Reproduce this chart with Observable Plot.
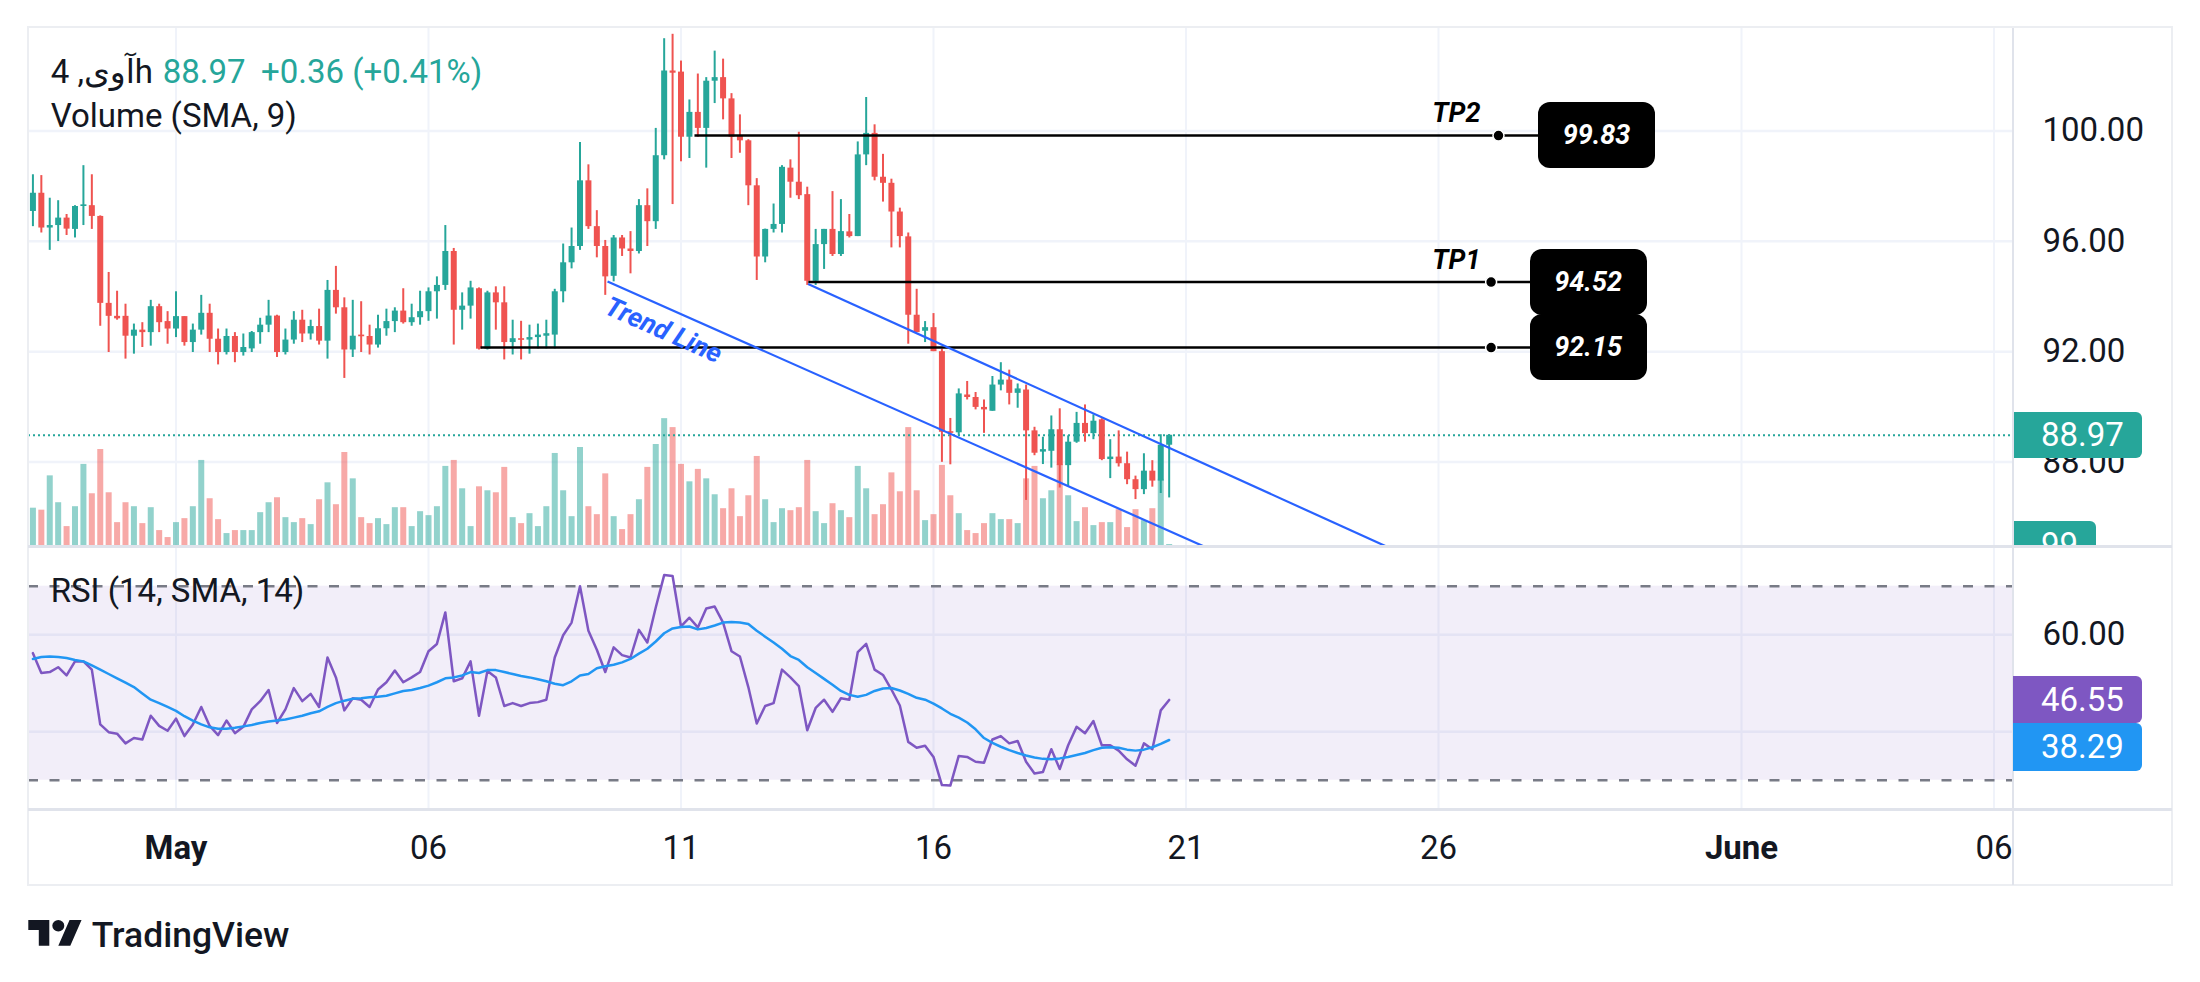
<!DOCTYPE html>
<html><head><meta charset="utf-8">
<script src="https://cdn.jsdelivr.net/npm/d3@7"></script>
<script src="https://cdn.jsdelivr.net/npm/@observablehq/plot@0.6"></script>
<style>
html,body{margin:0;padding:0;background:#fff;}
#root{position:relative;width:2200px;height:982px;overflow:hidden;background:#fff;font-family:Roboto,"DejaVu Sans",sans-serif;}
.layer{position:absolute;left:0;top:0;}
.pane{position:absolute;left:0;top:0;width:2200px;height:546px;overflow:hidden;}
.hl{position:absolute;background:#e0e3eb;}
.fr{position:absolute;background:#eceef2;}
.badge{position:absolute;color:#fff;font-size:33px;display:flex;align-items:center;box-sizing:border-box;padding-left:28px;border-radius:0 6px 6px 0;}
.tpbox{position:absolute;background:#000;color:#fff;font:italic 700 27px Roboto,sans-serif;display:flex;align-items:center;justify-content:center;border-radius:12px;}
</style></head><body><div id="root"></div><script>
// ---------- data ----------
const opens = [97.08,97.74,96.48,96.57,96.84,96.43,97.26,97.29,96.90,93.75,
93.28,93.28,92.56,92.78,92.69,93.63,93.09,92.82,93.27,92.33,
92.78,93.39,92.45,91.97,92.55,91.97,92.10,92.69,92.96,93.29,
91.97,92.42,93.14,92.64,92.91,92.38,94.22,93.59,92.06,92.60,
92.55,92.24,92.83,93.09,93.47,93.05,93.23,93.45,94.17,94.40,
95.63,93.50,93.65,94.28,92.09,94.13,93.77,92.33,92.47,92.42,
92.51,92.56,92.60,94.17,95.22,95.81,98.19,96.53,95.81,94.73,
96.12,95.72,95.63,97.29,96.71,99.10,102.17,102.13,99.77,100.67,
100.09,101.80,101.93,101.16,99.82,99.64,98.01,95.43,96.43,96.61,
98.65,98.14,97.69,94.55,95.88,96.43,95.52,96.34,96.17,99.13,
99.91,98.32,98.10,97.06,96.16,93.32,92.74,92.87,92.00,89.10,
89.06,90.43,90.34,89.98,89.84,90.79,90.97,90.49,90.61,89.13,
88.36,88.39,89.17,87.87,88.72,89.40,89.03,89.53,88.09,88.18,
87.94,87.36,87.00,87.67,87.31,88.61];
const highs = [98.41,98.38,97.56,97.47,96.97,97.29,98.74,98.41,96.92,94.87,
94.19,93.72,93.00,93.05,93.86,93.72,93.45,94.17,93.27,93.00,
94.04,93.72,92.82,92.82,92.69,92.64,92.73,93.21,93.86,93.32,
92.82,93.45,93.50,93.14,93.54,94.58,95.09,93.95,93.86,93.81,
92.96,93.32,93.54,93.59,94.28,93.72,94.19,94.31,94.71,96.57,
95.74,94.13,94.55,94.31,94.19,94.35,94.35,93.14,93.10,92.96,
93.00,93.14,94.26,95.90,96.48,99.58,98.77,97.11,96.03,96.21,
96.21,96.35,97.51,97.90,100.09,103.34,103.50,102.53,101.12,102.06,
101.93,102.89,102.60,101.35,100.58,99.68,98.27,96.44,97.35,98.74,
98.95,99.95,97.96,96.43,96.43,97.80,97.51,96.97,99.60,101.21,
100.22,99.15,98.25,97.20,96.30,94.26,93.09,93.38,92.09,89.58,
90.65,90.92,90.52,90.25,91.10,91.60,91.33,90.83,90.79,89.26,
88.90,89.67,89.93,88.95,89.80,90.07,89.71,89.57,88.81,89.13,
88.36,87.49,88.30,88.05,88.99,88.99];
const lows = [96.53,96.30,95.67,95.99,96.21,96.12,96.57,96.43,92.92,91.97,
93.14,91.73,91.91,92.15,92.20,92.69,92.27,92.51,92.20,91.97,
92.60,91.97,91.52,91.88,91.60,91.84,91.97,92.27,92.69,91.79,
91.88,92.27,92.33,92.42,92.24,91.73,93.36,91.03,91.79,91.97,
91.88,92.13,92.56,92.69,93.00,92.92,92.96,93.10,93.18,94.22,
92.24,92.78,93.18,92.06,92.06,92.78,91.70,91.88,91.70,91.91,
92.10,92.10,92.10,93.77,95.00,95.67,96.43,95.40,94.04,94.53,
95.45,94.82,95.54,95.81,96.43,98.95,97.33,98.88,99.00,99.77,
98.65,100.99,100.40,99.00,99.19,97.29,94.58,95.22,96.30,96.30,
97.56,97.51,94.40,94.40,94.98,95.45,95.45,96.12,96.17,98.74,
98.19,97.42,95.76,95.76,92.27,92.69,92.33,92.00,87.99,87.90,
88.95,90.25,89.89,89.04,89.84,90.58,90.07,89.95,86.61,88.23,
87.91,87.78,87.06,87.10,88.68,88.72,88.81,88.05,87.40,87.82,
87.18,86.64,86.82,87.09,86.86,86.70];
const closes = [97.74,96.48,96.57,96.84,96.44,97.26,97.29,96.90,93.75,93.28,
93.19,92.56,92.78,92.69,93.63,93.05,92.82,93.27,92.33,92.78,
93.39,92.45,91.97,92.55,91.97,92.15,92.69,92.96,93.29,91.97,
92.42,93.14,92.64,92.91,92.38,94.22,93.59,92.06,92.56,92.55,
92.24,92.83,93.09,93.47,93.05,93.23,93.45,94.17,94.40,95.63,
93.50,93.65,94.31,92.09,94.13,93.77,92.33,92.47,92.42,92.51,
92.60,92.65,94.17,95.22,95.81,98.19,96.53,95.81,94.71,96.12,
95.72,95.63,97.29,96.71,99.10,102.17,102.09,99.77,100.67,100.09,
101.80,101.93,101.16,99.77,99.64,98.01,95.43,96.43,96.61,98.68,
98.14,97.65,94.55,95.88,96.43,95.52,96.35,96.17,99.13,99.91,
98.32,98.10,97.06,96.17,93.32,92.69,92.87,92.00,89.08,89.06,
90.47,90.34,89.98,89.89,90.79,90.97,90.49,90.65,89.13,88.32,
88.45,89.17,87.87,88.72,89.40,89.03,89.48,88.09,88.18,87.94,
87.36,87.00,87.67,87.31,88.61,88.97];
const volumes = [1925,1825,3550,2200,1000,2000,4125,2650,4875,2700,
1200,2200,2000,1150,1950,800,450,1200,1400,2000,
4325,2400,1350,650,800,800,800,1700,2200,2450,
1450,1200,1400,1100,2350,3200,2100,4725,3400,1450,
1150,1400,1100,1950,1950,1000,1750,1550,2000,4025,
4325,2900,1000,3000,2800,2700,3975,1450,1150,1650,
1000,2000,4675,2800,1500,4975,2000,1600,3650,1500,
850,1600,2350,3975,5125,6425,5975,4125,3250,3875,
3400,2600,1900,2900,1500,2550,4525,2350,1200,1900,
1800,1950,4325,1750,1150,2150,1800,1450,4025,2900,
1600,2100,3700,2750,5975,2800,1300,1600,4075,2550,
1650,800,650,1150,1650,1350,1350,1150,3400,4025,
2400,2800,4125,2550,1250,1950,1050,1200,1200,1850,
950,1850,1300,1900,3375,99];
const rsiValues = [56.2,52.1,52.3,53.3,51.6,54.5,54.5,52.8,41.5,39.9,
39.6,37.6,38.7,38.4,43.3,41.2,40.2,42.7,39.1,41.5,
45.1,41.2,39.3,42.3,39.7,41.0,44.6,46.3,48.6,41.8,
44.6,49.0,46.3,47.8,45.1,55.3,51.2,44.4,46.9,46.6,
45.1,48.7,50.2,52.6,50.2,51.2,52.3,56.6,58.1,64.6,
50.4,51.0,54.5,43.3,52.5,51.2,45.3,45.9,45.3,45.9,
46.1,46.6,55.3,59.9,62.5,70.0,60.8,56.9,52.3,57.4,
55.8,55.3,61.0,58.4,65.6,72.3,72.1,61.7,63.5,61.5,
65.4,65.8,62.5,56.6,55.5,49.2,41.7,45.3,45.9,52.8,
51.2,49.4,40.3,44.9,46.6,44.1,46.9,46.6,56.4,58.1,
52.8,51.7,48.7,45.4,37.9,36.7,37.1,34.8,29.0,28.9,
35.0,34.8,33.8,33.6,38.4,39.1,37.6,38.1,33.8,31.4,
31.7,36.4,32.3,37.2,41.0,39.7,42.2,37.2,37.2,36.1,
34.3,33.0,37.6,36.4,44.4,46.55];
const rsiMA = [55.0,55.4,55.5,55.4,55.2,54.8,54.5,53.7,52.8,51.9,
51.0,50.1,49.2,47.9,46.6,45.9,45.1,44.3,43.2,42.3,
41.5,40.9,40.6,40.6,40.8,41.1,41.4,41.8,42.1,42.3,
42.5,42.9,43.3,43.8,44.2,45.1,45.9,46.4,46.8,46.9,
47.1,47.2,47.4,47.9,48.4,48.6,49.0,49.5,50.2,51.0,
51.2,51.6,52.3,52.1,52.7,52.7,52.3,51.9,51.5,51.2,
50.8,50.4,49.9,49.6,50.4,51.6,51.9,53.1,53.5,53.8,
54.3,55.0,56.1,57.1,58.6,60.3,61.3,61.6,61.7,61.1,
61.4,61.9,62.5,62.6,62.5,62.2,60.8,59.6,58.4,57.1,
55.6,54.8,53.3,52.1,50.9,49.7,48.4,47.6,47.2,47.6,
48.4,48.9,49.0,48.5,47.8,47.0,46.6,45.8,44.8,43.7,
42.9,41.9,40.5,38.7,37.7,36.9,36.2,35.6,35.1,34.7,
34.4,34.3,34.5,34.8,35.2,35.6,36.2,36.7,36.8,36.7,
36.3,36.1,36.3,36.8,37.5,38.29];
const candleStart = Date.UTC(2022, 3, 28, 4); // first 4h candle
const candleStepMs = 4 * 3600 * 1000;
const priceTicks = [88, 92, 96, 100];
const rsiGridTicks = [40, 60];
const rsiLabelTicks = [60];
const rsiBounds = [30, 70];
const monthTicks = [{date: "2022-05-01T00:00Z", label: "May"}, {date: "2022-06-01T00:00Z", label: "June"}];
const dayTicks = [{date: "2022-05-06T00:00Z", label: "06"}, {date: "2022-05-11T00:00Z", label: "11"},
  {date: "2022-05-16T00:00Z", label: "16"}, {date: "2022-05-21T00:00Z", label: "21"},
  {date: "2022-05-26T00:00Z", label: "26"}, {date: "2022-06-06T00:00Z", label: "06"}];
const lastPrice = 88.97, lastVolume = 99, lastRsi = 46.55, lastRsiMA = 38.29;
const targets = [
  {label: "TP2", price: 99.83, start: "2022-05-11T06:24Z", dot: "2022-05-27T04:30Z", box: "2022-05-27T23:31Z", text: "2022-05-26T19:58Z"},
  {label: "TP1", price: 94.52, start: "2022-05-13T12:30Z", dot: "2022-05-27T01:00Z", box: "2022-05-27T19:32Z", text: "2022-05-26T19:58Z"},
  {label: "",    price: 92.15, start: "2022-05-07T00:43Z", dot: "2022-05-27T01:00Z", box: "2022-05-27T19:32Z", text: "2022-05-26T19:58Z"}
];
const trendLines = [
  {x1: "2022-05-09T13:05Z", y1: 94.54, x2: "2022-05-21T08:36Z", y2: 84.94},
  {x1: "2022-05-13T12:24Z", y1: 94.45, x2: "2022-05-24T23:16Z", y2: 84.94}
];
const trendLabel = [{t: "2022-05-10T15:40Z", p: 92.77, label: "Trend Line"}];

// ---------- setup ----------
const UP = "#26a69a", DOWN = "#ef5350";
const VUP = "rgba(38,166,154,0.5)", VDOWN = "rgba(239,83,80,0.5)";
const FONT = "Roboto, 'DejaVu Sans', sans-serif";
const candles = opens.map((o, i) => ({
  t: new Date(candleStart + i * candleStepMs), o, h: highs[i], l: lows[i], c: closes[i],
  v: volumes[i], rsi: rsiValues[i], ma: rsiMA[i]
}));
const isUp = d => d.c >= d.o;
const allTicks = [...monthTicks, ...dayTicks].map(d => new Date(d.date));
const xDomain = [new Date("2022-04-28T01:54Z"), new Date("2022-06-06T09:16Z")];
const priceDomain = [84.94, 103.71];
const base = {width: 2200, marginLeft: 28, marginRight: 187, color: {type: "identity"}};
const style = {background: "transparent", fontFamily: FONT, color: "#131722", overflow: "visible"};

function pricePlot(marks) {
  return Plot.plot({...base, height: 547, marginTop: 28, marginBottom: 1,
    x: {type: "utc", domain: xDomain, axis: null}, y: {domain: priceDomain, axis: null}, style, marks});
}
const gridLayer = pricePlot([
  Plot.gridY(priceTicks, {stroke: "#f0f3fa", strokeOpacity: 1, strokeWidth: 2.5}),
  Plot.gridX(allTicks, {stroke: "#f0f3fa", strokeOpacity: 1, strokeWidth: 2})
]);
const volLayer = Plot.plot({...base, height: 547, marginTop: 28, marginBottom: 1,
  x: {type: "utc", domain: xDomain, axis: null}, y: {domain: [0, 26030], axis: null}, style,
  marks: [Plot.ruleX(candles, {x: "t", y1: 0, y2: "v", stroke: d => isUp(d) ? VUP : VDOWN, strokeWidth: 6})]
});
const bodyEnd = d => Math.abs(d.c - d.o) < 0.06 ? d.o + (isUp(d) ? 0.06 : -0.06) : d.c;
const mainLayer = pricePlot([
  Plot.ruleY([lastPrice], {stroke: UP, strokeWidth: 2, strokeDasharray: "2,3"}),
  Plot.ruleX(candles, {x: "t", y1: "l", y2: "h", stroke: d => isUp(d) ? UP : DOWN, strokeWidth: 2}),
  Plot.ruleX(candles, {x: "t", y1: "o", y2: bodyEnd, stroke: d => isUp(d) ? UP : DOWN, strokeWidth: 6}),
  Plot.link(targets, {x1: d => new Date(d.start), x2: d => new Date(d.box), y1: "price", y2: "price", stroke: "#000", strokeWidth: 2.5}),
  Plot.dot(targets, {x: d => new Date(d.dot), y: "price", r: 5.5, fill: "#000", stroke: "#fff", strokeWidth: 1.5}),
  Plot.text(targets.filter(d => d.label), {x: d => new Date(d.text), y: "price", text: "label", textAnchor: "end",
    dy: -22, fontSize: 27, fontWeight: 700, fontStyle: "italic", fill: "#000"}),
  Plot.link(trendLines, {x1: d => new Date(d.x1), y1: "y1", x2: d => new Date(d.x2), y2: "y2", stroke: "#2962ff", strokeWidth: 2.2}),
  Plot.text(trendLabel, {x: d => new Date(d.t), y: "p", text: "label", rotate: 23.9, fontSize: 27, fontWeight: 700,
    fontStyle: "italic", fill: "#2962ff"}),
  Plot.text(priceTicks, {y: d => d, text: d => d.toFixed(2), frameAnchor: "right", dx: 29, textAnchor: "start", fontSize: 33, fill: "#131722"})
]);
const rsiPlot = Plot.plot({...base, height: 339, marginTop: 0, marginBottom: 76,
  x: {type: "utc", domain: xDomain, axis: null}, y: {domain: [23.96, 78.19], axis: null}, style,
  marks: [
    Plot.gridX(allTicks, {stroke: "#f0f3fa", strokeOpacity: 1, strokeWidth: 2}),
    Plot.gridY(rsiGridTicks, {stroke: "#f0f3fa", strokeOpacity: 1, strokeWidth: 2.5}),
    Plot.rect([{x1: xDomain[0], x2: xDomain[1], y1: rsiBounds[0], y2: rsiBounds[1]}], {x1: "x1", x2: "x2", y1: "y1", y2: "y2", fill: "#7e57c2", fillOpacity: 0.1}),
    Plot.ruleY(rsiBounds, {stroke: "#787b86", strokeWidth: 2.5, strokeDasharray: "10,11.5"}),
    Plot.line(candles, {x: "t", y: "rsi", stroke: "#7e57c2", strokeWidth: 2.5}),
    Plot.line(candles, {x: "t", y: "ma", stroke: "#2196f3", strokeWidth: 2.5}),
    Plot.text(rsiLabelTicks, {y: d => d, text: d => d.toFixed(2), frameAnchor: "right", dx: 29, textAnchor: "start", fontSize: 33, fill: "#131722"}),
    Plot.text(dayTicks, {x: d => new Date(d.date), text: "label", frameAnchor: "bottom", lineAnchor: "middle", dy: 39, fontSize: 33, fill: "#131722"}),
    Plot.text(monthTicks, {x: d => new Date(d.date), text: "label", frameAnchor: "bottom", lineAnchor: "middle", dy: 39, fontSize: 33, fontWeight: 700, fill: "#131722"})
  ]
});

// ---------- assemble ----------
const root = document.getElementById("root");
const pane = document.createElement("div"); pane.className = "pane"; root.appendChild(pane);
for (const p of [gridLayer, volLayer, mainLayer]) { p.classList.add("layer"); pane.appendChild(p); }
rsiPlot.classList.add("layer"); rsiPlot.style.top = "546px"; root.appendChild(rsiPlot);

function box(parent, cls, l, t, w, h, bg, txt) {
  const d = document.createElement("div"); d.className = cls;
  Object.assign(d.style, {left: l + "px", top: t + "px", width: w + "px", height: h + "px"});
  if (bg) d.style.background = bg; if (txt != null) d.textContent = txt;
  parent.appendChild(d); return d;
}
// frame & separators
box(root, "fr", 27, 26, 2146, 2); box(root, "fr", 27, 884, 2146, 2);
box(root, "fr", 27, 26, 2, 860); box(root, "fr", 2171, 26, 2, 860);
box(root, "hl", 28, 545, 2144, 3); box(root, "hl", 28, 808, 2144, 3);
box(root, "hl", 2012, 28, 2, 857);

// axis badges via scales
const py = mainLayer.scale("y"), px = mainLayer.scale("x");
const vy = volLayer.scale("y"), ry = rsiPlot.scale("y");
box(pane, "badge", 2013, py.apply(lastPrice) - 23, 129, 46, UP, lastPrice.toFixed(2));
box(pane, "badge", 2013, vy.apply(lastVolume) - 23, 83, 46, UP, String(lastVolume));
const rTop = 546 + ry.apply(lastRsi) - 23.3;
box(root, "badge", 2013, rTop, 129, 46.7, "#7e57c2", lastRsi.toFixed(2));
const mTop = Math.max(546 + ry.apply(lastRsiMA) - 23.3, rTop + 46.7);
box(root, "badge", 2013, mTop, 129, 48, "#2196f3", lastRsiMA.toFixed(2));
// target boxes
for (const d of targets) {
  box(root, "tpbox", px.apply(new Date(d.box)), py.apply(d.price) - 33, 117, 66, null, d.price.toFixed(2));
}

// legend texts & logo
const NS = "http://www.w3.org/2000/svg";
const svg = document.createElementNS(NS, "svg");
svg.setAttribute("width", 2200); svg.setAttribute("height", 982);
svg.setAttribute("style", "position:absolute;left:0;top:0;pointer-events:none;font-family:" + FONT);
function txt(x, y, s, size, fill, weight) {
  const t = document.createElementNS(NS, "text");
  t.setAttribute("x", x); t.setAttribute("y", y); t.setAttribute("font-size", size);
  t.setAttribute("fill", fill); if (weight) t.setAttribute("font-weight", weight);
  t.textContent = s; svg.appendChild(t); return t;
}
txt(50.7, 82.7, "4 ,آویh", 33, "#131722");
txt(162.7, 82.7, "88.97", 33, UP);
txt(261, 82.7, "+0.36 (+0.41%)", 33, UP);
txt(50.7, 127, "Volume (SMA, 9)", 33, "#131722");
txt(50.7, 602, "RSI (14, SMA, 14)", 33, "#131722");
const g = document.createElementNS(NS, "g");
g.setAttribute("transform", "translate(28.3,914.3) scale(1.5,1.43)");
g.setAttribute("fill", "#131722");
g.innerHTML = '<path d="M14 22H7V11H0V4h14v18zM28 22h-8l7.5-18h8L28 22z"/><circle cx="20" cy="8" r="4"/>';
svg.appendChild(g);
txt(91.7, 947, "TradingView", 35.5, "#131722", 500);
root.appendChild(svg);
</script></body></html>
